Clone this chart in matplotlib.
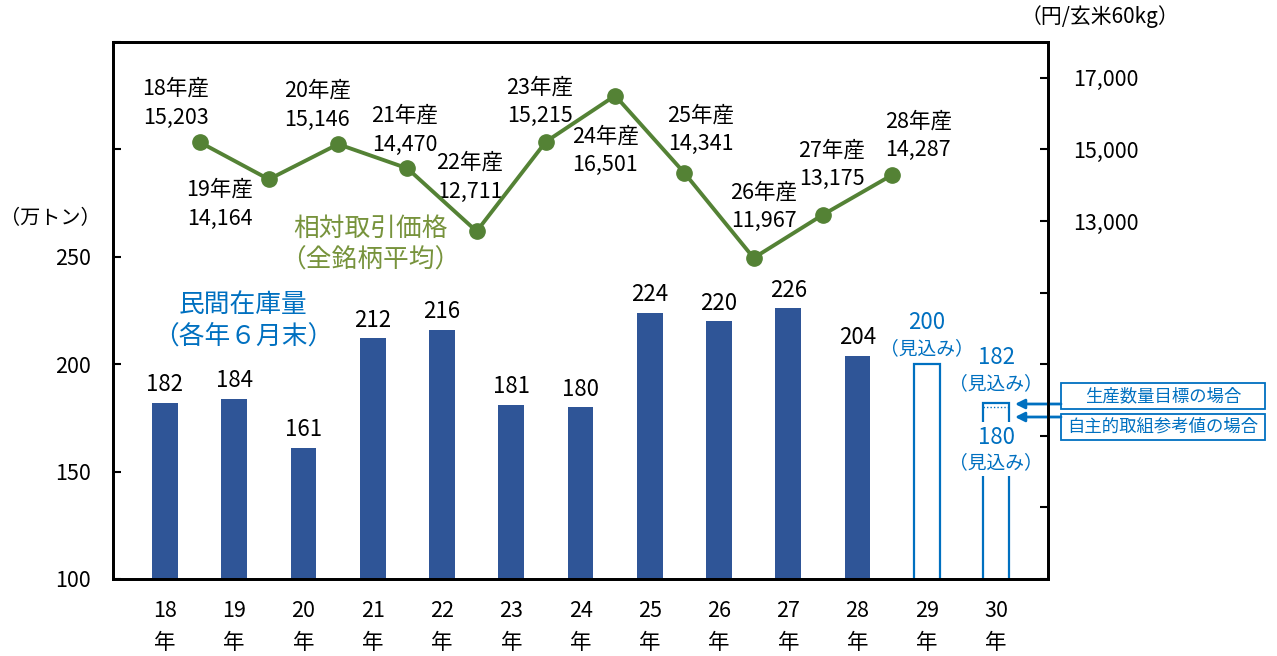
import numpy as np
import matplotlib
matplotlib.use("Agg")
import matplotlib.pyplot as plt
from matplotlib.patches import Rectangle

plt.rcParams['font.family'] = ['Noto Sans CJK JP', 'DejaVu Sans']

# データ
years = ["18", "19", "20", "21", "22", "23", "24", "25", "26", "27", "28", "29", "30"]
stock = [182, 184, 161, 212, 216, 181, 180, 224, 220, 226, 204]  # 民間在庫量（万トン）
stock_est = [200, 182]  # 29年・30年 見込み（生産数量目標の場合）
stock_est_low = 180  # 30年 見込み（自主的取組参考値の場合）
price_years = ["18", "19", "20", "21", "22", "23", "24", "25", "26", "27", "28"]
price = [15203, 14164, 15146, 14470, 12711, 15215, 16501, 14341, 11967, 13175, 14287]  # 円/玄米60kg

# 価格ラベルの位置ずらし（px）
lab_dx = [-24, -49, -21, -3, -7, -6, -10, 16, 10, 9, 26]
lab_dy = [39, -25, 39, 38, 54, 40, -55, 43, 51, 50, 39]

bar_col = "#2F5597"
line_col = "#548235"
green_txt = "#77933C"
blue = "#0070C0"

fig = plt.figure(figsize=(12.77, 6.56), dpi=100)
ax = fig.add_axes([0.0885, 0.1174, 0.7322, 0.8186])

x = np.arange(len(years))
w = 0.37
ax.bar(x[:len(stock)], stock, width=w, color=bar_col, zorder=2)
ax.bar(x[len(stock):], stock_est, width=w, facecolor="white", edgecolor=blue, linewidth=1.6, zorder=2)
ax.hlines(stock_est_low, x[-1] - w / 2, x[-1] + w / 2, colors=blue, linestyles=(0, (1, 1.5)), linewidth=1, zorder=3)

ax.set_xlim(-0.75, 12.75)
ax.set_ylim(100, 350)
ax.set_yticks(range(100, 351, 50))
ax.set_yticklabels(["100", "150", "200", "250", "", ""])
ax.set_xticks(x)
ax.set_xticklabels([f"{y}\n年" for y in years])
for lbl in ax.get_xticklabels():
    lbl.set_linespacing(1.6)
ax.tick_params(axis="x", length=0, pad=15, labelsize=15.5)
ax.tick_params(axis="y", direction="in", length=6, width=1.5, labelsize=15.5, pad=16)
for s in ax.spines.values():
    s.set_linewidth(2)

# 棒の数値
for xi, v in zip(x[:len(stock)], stock):
    ax.annotate(str(v), (xi, v), xytext=(0, 13), textcoords="offset points",
                ha="center", va="center", fontsize=16)

# 見込みのラベル
ax.annotate(str(stock_est[0]), (x[11], stock_est[0]), xytext=(0, 30), textcoords="offset points",
            ha="center", va="center", fontsize=16, color=blue)
ax.annotate("（見込み）", (x[11], stock_est[0]), xytext=(0, 11), textcoords="offset points",
            ha="center", va="center", fontsize=13.5, color=blue)
ax.annotate(str(stock_est[1]), (x[12], stock_est[1]), xytext=(0, 33), textcoords="offset points",
            ha="center", va="center", fontsize=16, color=blue)
ax.annotate("（見込み）", (x[12], stock_est[1]), xytext=(0, 14), textcoords="offset points",
            ha="center", va="center", fontsize=13.5, color=blue)
ax.annotate(str(stock_est_low), (x[12], stock_est_low), xytext=(0, -22), textcoords="offset points",
            ha="center", va="center", fontsize=16, color=blue, zorder=5,
            bbox=dict(facecolor="white", edgecolor="none", pad=3))
ax.annotate("（見込み）", (x[12], stock_est_low), xytext=(0, -40), textcoords="offset points",
            ha="center", va="center", fontsize=13.5, color=blue, zorder=5,
            bbox=dict(facecolor="white", edgecolor="none", pad=2))

# 相対取引価格
ax2 = ax.twinx()
px = x[:len(price)] + 0.5
ax2.plot(px, price, color=line_col, linewidth=2.8, marker="o", markersize=11, zorder=4)
ax2.set_ylim(3000, 18000)
ax2.set_yticks(range(3000, 18001, 2000))
ax2.set_yticklabels([f"{t:,}" if t >= 13000 else "" for t in range(3000, 18001, 2000)])
ax2.tick_params(axis="y", direction="in", length=6, width=1.5, labelsize=15.5, pad=18)
for s in ax2.spines.values():
    s.set_linewidth(2)

for xi, yv, nm, dx, dy in zip(px, price, price_years, lab_dx, lab_dy):
    ax2.annotate(f"{nm}年産\n{yv:,}", (xi, yv), xytext=(dx * 0.72, dy * 0.72), textcoords="offset points",
                 ha="center", va="center", fontsize=15.5, linespacing=1.4)

# 見出し
fig.text(370 / 1277, 1 - 245 / 656, "相対取引価格\n（全銘柄平均）", color=green_txt, fontsize=18.5,
         ha="center", va="center", linespacing=1.3)
fig.text(243 / 1277, 1 - 321 / 656, "民間在庫量\n（各年６月末）", color=blue, fontsize=18.5,
         ha="center", va="center", linespacing=1.3)
fig.text(50 / 1277, 1 - 219 / 656, "（万トン）", fontsize=14.5, ha="center", va="center")
fig.text(1100 / 1277, 1 - 17 / 656, "（円/玄米60kg）", fontsize=15, ha="center", va="center")

# 凡例の箱と矢印
for top, txt in [(383, "生産数量目標の場合"), (414, "自主的取組参考値の場合")]:
    fig.add_artist(Rectangle((1061 / 1277, 1 - (top + 26) / 656), 204 / 1277, 26 / 656,
                             transform=fig.transFigure, fill=False, edgecolor=blue, linewidth=1.3))
    fig.text(1163 / 1277, 1 - (top + 13) / 656, txt, color=blue, fontsize=12.5, ha="center", va="center")
for ay in [404, 417]:
    ax.annotate("", xy=(1015 / 1277, 1 - ay / 656), xytext=(1061 / 1277, 1 - ay / 656),
                xycoords="figure fraction", textcoords="figure fraction",
                arrowprops=dict(arrowstyle="-|>", color=blue, lw=2, mutation_scale=14, shrinkA=0, shrinkB=0))

fig.savefig("out.png", dpi=100)
